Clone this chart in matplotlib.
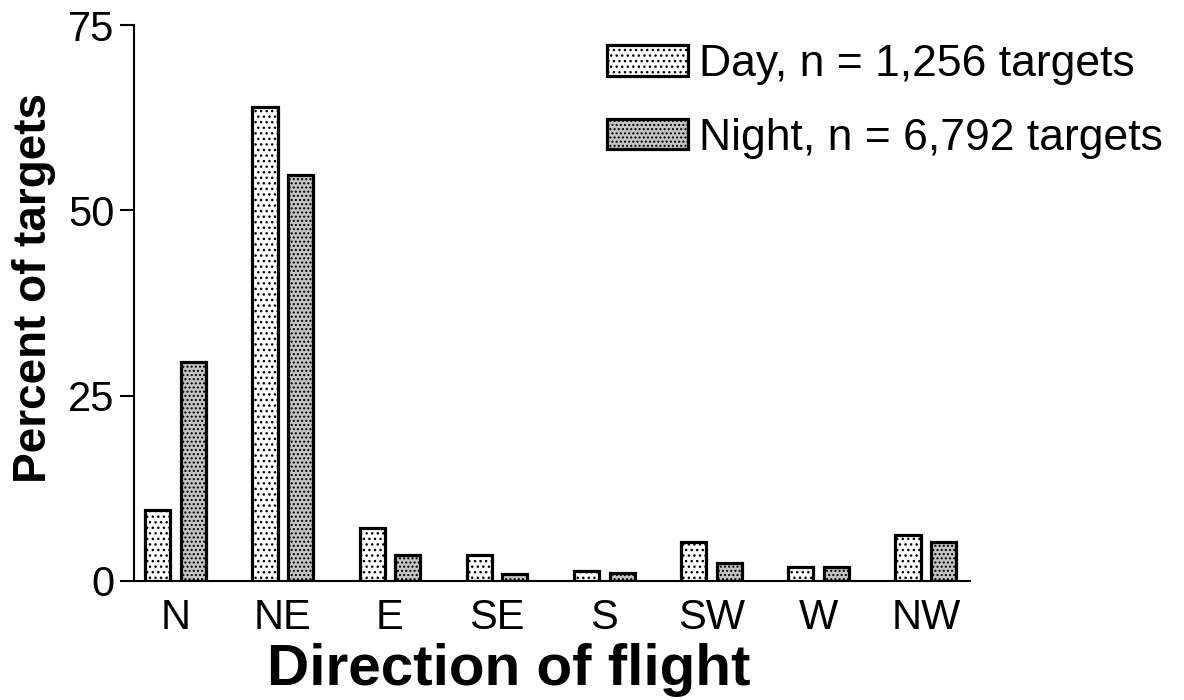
import matplotlib
matplotlib.use("Agg")
import matplotlib.pyplot as plt
import numpy as np

directions = ["N", "NE", "E", "SE", "S", "SW", "W", "NW"]
day_pct = [9.6, 63.9, 7.2, 3.5, 1.3, 5.3, 1.9, 6.2]
night_pct = [29.5, 54.8, 3.5, 1.0, 1.1, 2.4, 1.9, 5.3]
series_labels = ["Day, n = 1,256 targets", "Night, n = 6,792 targets"]
y_ticks = [0, 25, 50, 75]

plt.rcParams["font.family"] = ["Liberation Sans", "DejaVu Sans"]
plt.rcParams["hatch.linewidth"] = 1.0
plt.rcParams["hatch.color"] = "#333333"

fig = plt.figure(figsize=(11.84, 7.0), dpi=100)
ax = fig.add_axes([0.113, 0.170, 0.706, 0.794])

x = np.arange(len(directions))
w = 0.234
off = 0.166
b1 = ax.bar(x - off, day_pct, w, facecolor="white", edgecolor="black",
            linewidth=2.3, hatch="...", label=series_labels[0])
b2 = ax.bar(x + off, night_pct, w, facecolor="#c4c4c4", edgecolor="black",
            linewidth=2.3, hatch="....", label=series_labels[1])

ax.set_xlim(-0.39, 7.41)
ax.set_ylim(0, 75)
ax.set_yticks(y_ticks)
ax.set_xticks(x)
ax.set_xticklabels(directions)
ax.tick_params(axis="y", direction="out", length=10, width=1.5, labelsize=30, pad=4)
ax.tick_params(axis="x", length=0, labelsize=30, pad=12)
for s in ["top", "right"]:
    ax.spines[s].set_visible(False)
for s in ["left", "bottom"]:
    ax.spines[s].set_linewidth(1.5)

ax.set_xlabel("Direction of flight", fontsize=42, fontweight="bold")
ax.xaxis.set_label_coords(0.449, -0.112)
ax.set_ylabel("Percent of targets", fontsize=33, fontweight="bold")
ax.yaxis.set_label_coords(-0.093, 0.528)

leg = fig.legend(handles=[b1, b2], loc="upper left", bbox_to_anchor=(0.513, 0.937),
                 frameon=False, fontsize=32, handlelength=1.82, handleheight=0.68,
                 handletextpad=0.23, labelspacing=0.73, borderaxespad=0, borderpad=0)

fig.savefig("out.png", dpi=100)
